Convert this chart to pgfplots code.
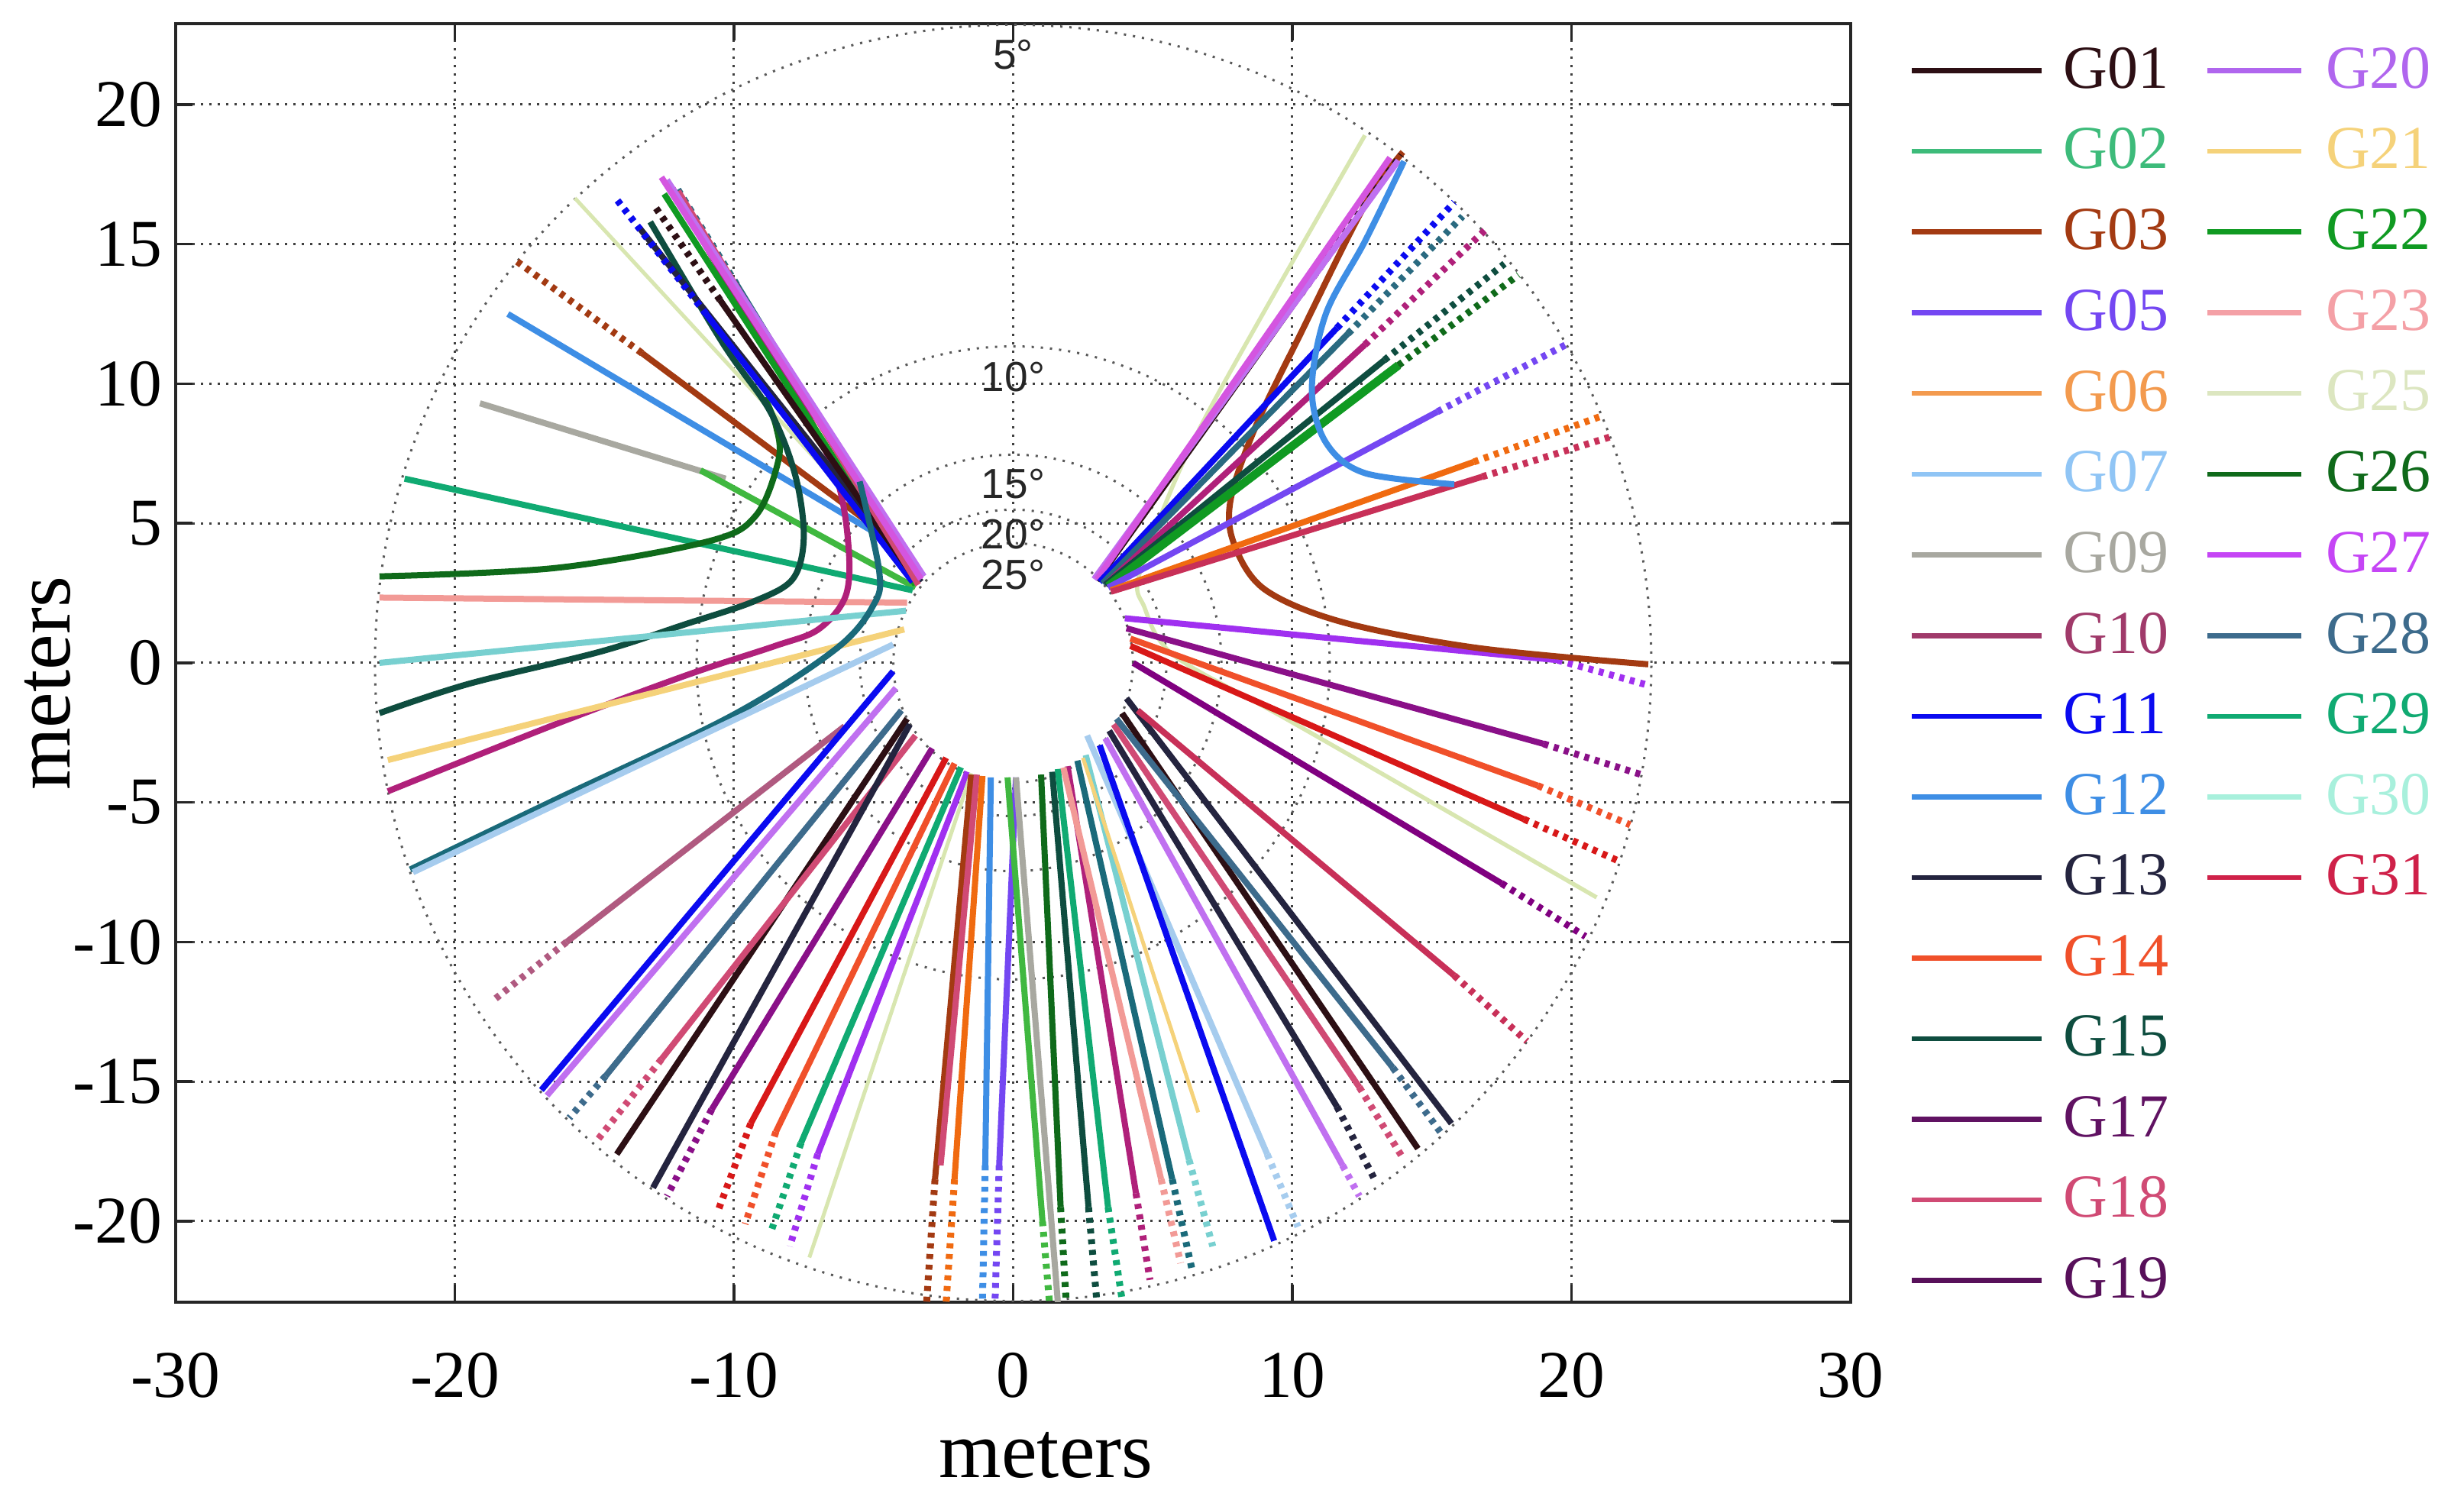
\documentclass[border=0pt]{standalone}
\usepackage{fontspec}
\setmainfont{Liberation Serif}
\newfontfamily\lsans{Liberation Sans}
\usepackage{pgfplots}
\pgfplotsset{compat=1.18}
% legend colours
\definecolor{c01}{HTML}{2D0F14}
\definecolor{c02}{HTML}{3DBB7A}
\definecolor{c03}{HTML}{A33A12}
\definecolor{c05}{HTML}{7447F2}
\definecolor{c06}{HTML}{F39A4E}
\definecolor{c07}{HTML}{90C5F5}
\definecolor{c09}{HTML}{A8A8A0}
\definecolor{c10}{HTML}{A03A6A}
\definecolor{c11}{HTML}{0A0AF0}
\definecolor{c12}{HTML}{3E8EE5}
\definecolor{c13}{HTML}{24243F}
\definecolor{c14}{HTML}{F0502A}
\definecolor{c15}{HTML}{0E4D3F}
\definecolor{c17}{HTML}{601262}
\definecolor{c18}{HTML}{D04A74}
\definecolor{c19}{HTML}{58105A}
\definecolor{c20}{HTML}{B066EE}
\definecolor{c21}{HTML}{F5D27A}
\definecolor{c22}{HTML}{109A22}
\definecolor{c23}{HTML}{F4A0A6}
\definecolor{c25}{HTML}{DCE6C0}
\definecolor{c26}{HTML}{0F6A1A}
\definecolor{c27}{HTML}{C545F5}
\definecolor{c28}{HTML}{3D6B8C}
\definecolor{c29}{HTML}{10AA72}
\definecolor{c30}{HTML}{A8F0DC}
\definecolor{c31}{HTML}{CF2149}
% track colours as seen in the plot
\definecolor{p10}{HTML}{B0207A}
\definecolor{p17}{HTML}{8A1088}
\definecolor{p19}{HTML}{800080}
\definecolor{p20}{HTML}{C070F0}
\definecolor{p23}{HTML}{F29A96}
\definecolor{p25}{HTML}{D8E6B0}
\definecolor{p27}{HTML}{D455E0}
\definecolor{p28}{HTML}{2A6A80}
\definecolor{p30}{HTML}{78D0D0}
\definecolor{p31}{HTML}{D81818}
\definecolor{pgr}{HTML}{40B840}
\definecolor{pmv}{HTML}{B05A80}
\definecolor{pcr}{HTML}{C83058}
\definecolor{pvi}{HTML}{A030F0}
\definecolor{por}{HTML}{F06A10}
\definecolor{ptl}{HTML}{1A6A7A}
\definecolor{plb}{HTML}{A6CCEE}

\begin{document}
\begin{tikzpicture}
\useasboundingbox (-46pt,-51.8pt) rectangle (599.2pt,341pt);
\begin{axis}[
  scale only axis, width=438.6pt, height=334.8pt,
  xmin=-30, xmax=30, ymin=-22.9, ymax=22.9,
  xtick={-30,-20,...,30}, ytick={-20,-15,...,20},
  grid=major,
  grid style={black!75, line width=0.6pt, dash pattern=on 0.6pt off 1.6pt},
  axis line style={black!85, line width=0.7pt},
  major tick style={black!85, line width=0.7pt}, major tick length=4.5pt,
  /pgf/number format/assume math mode=true,
  tick label style={font=\fontsize{17.5}{19}\selectfont},
  xticklabel style={yshift=-9.7pt},
  xlabel={meters}, ylabel={meters},
  label style={font=\fontsize{21}{24}\selectfont},
  x label style={at={(axis description cs:0.5196,-0.1195)}, anchor=center},
  y label style={at={(axis description cs:-0.0766,0.484)}, anchor=center},
  legend columns=2, legend cell align=left,
  legend style={draw=none, fill=none, inner sep=0pt,
    at={(axis description cs:1,1)}, anchor=north west, xshift=15.2pt, yshift=-4pt,
    font=\fontsize{16}{18}\selectfont, row sep=5pt,
    nodes={inner sep=2pt, text depth=0.15em},
    /tikz/every even column/.append style={column sep=7.5pt}},
  legend image code/.code={\draw[line width=1.3pt] (0pt,0pt) -- (34pt,0pt); \path (37pt,0pt);},
  leg2/.style={legend image code/.code={\draw[line width=1.3pt] (0pt,0pt) -- (24.6pt,0pt); \path (28.8pt,0pt);}},
  trk/.style={line width=1.6pt, forget plot, line join=round},
  thn/.style={line width=1.0pt, forget plot},
  dtl/.style={line width=1.8pt, forget plot, dash pattern=on 1.3pt off 1.5pt},
  crv/.style={line width=1.6pt, forget plot, smooth, tension=0.55},
]
% legend, filled column by column
\addlegendimage{c01, line width=1.3pt}\addlegendentry{\textcolor{c01}{G01}}
\addlegendimage{c20, leg2}\addlegendentry{\textcolor{c20}{G20}}
\addlegendimage{c02, line width=1.3pt}\addlegendentry{\textcolor{c02}{G02}}
\addlegendimage{c21, leg2}\addlegendentry{\textcolor{c21}{G21}}
\addlegendimage{c03, line width=1.3pt}\addlegendentry{\textcolor{c03}{G03}}
\addlegendimage{c22, leg2}\addlegendentry{\textcolor{c22}{G22}}
\addlegendimage{c05, line width=1.3pt}\addlegendentry{\textcolor{c05}{G05}}
\addlegendimage{c23, leg2}\addlegendentry{\textcolor{c23}{G23}}
\addlegendimage{c06, line width=1.3pt}\addlegendentry{\textcolor{c06}{G06}}
\addlegendimage{c25, leg2}\addlegendentry{\textcolor{c25}{G25}}
\addlegendimage{c07, line width=1.3pt}\addlegendentry{\textcolor{c07}{G07}}
\addlegendimage{c26, leg2}\addlegendentry{\textcolor{c26}{G26}}
\addlegendimage{c09, line width=1.3pt}\addlegendentry{\textcolor{c09}{G09}}
\addlegendimage{c27, leg2}\addlegendentry{\textcolor{c27}{G27}}
\addlegendimage{c10, line width=1.3pt}\addlegendentry{\textcolor{c10}{G10}}
\addlegendimage{c28, leg2}\addlegendentry{\textcolor{c28}{G28}}
\addlegendimage{c11, line width=1.3pt}\addlegendentry{\textcolor{c11}{G11}}
\addlegendimage{c29, leg2}\addlegendentry{\textcolor{c29}{G29}}
\addlegendimage{c12, line width=1.3pt}\addlegendentry{\textcolor{c12}{G12}}
\addlegendimage{c30, leg2}\addlegendentry{\textcolor{c30}{G30}}
\addlegendimage{c13, line width=1.3pt}\addlegendentry{\textcolor{c13}{G13}}
\addlegendimage{c31, leg2}\addlegendentry{\textcolor{c31}{G31}}
\addlegendimage{c14, line width=1.3pt}\addlegendentry{\textcolor{c14}{G14}}
\addlegendimage{empty legend}\addlegendentry{}
\addlegendimage{c15, line width=1.3pt}\addlegendentry{\textcolor{c15}{G15}}
\addlegendimage{empty legend}\addlegendentry{}
\addlegendimage{c17, line width=1.3pt}\addlegendentry{\textcolor{c17}{G17}}
\addlegendimage{empty legend}\addlegendentry{}
\addlegendimage{c18, line width=1.3pt}\addlegendentry{\textcolor{c18}{G18}}
\addlegendimage{empty legend}\addlegendentry{}
\addlegendimage{c19, line width=1.3pt}\addlegendentry{\textcolor{c19}{G19}}

% elevation rings (5, 10, 15, 20, 25 deg)
\fill[white] (axis cs:0,0) circle[radius=4.29];
\draw[black!65, line width=0.6pt, dash pattern=on 0.6pt off 1.8pt] (axis cs:0,0) circle[radius=22.86];
\draw[black!65, line width=0.6pt, dash pattern=on 0.6pt off 1.8pt] (axis cs:0,0) circle[radius=11.34];
\draw[black!65, line width=0.6pt, dash pattern=on 0.6pt off 1.8pt] (axis cs:0,0) circle[radius=7.46];
\draw[black!65, line width=0.6pt, dash pattern=on 0.6pt off 1.8pt] (axis cs:0,0) circle[radius=5.49];
\draw[black!65, line width=0.6pt, dash pattern=on 0.6pt off 1.8pt] (axis cs:0,0) circle[radius=4.29];

% ---- upper left
\addplot[thn, p25] coordinates {(-3.2,3.1) (-15.7,16.65)};
\addplot[trk, c03] coordinates {(-4.2,4.3) (-13.3,11.1)};
\addplot[dtl, c03] coordinates {(-13.3,11.1) (-17.8,14.4)};
\addplot[trk, c12] coordinates {(-4.0,4.1) (-18.1,12.5)};
\addplot[trk, c09] coordinates {(-10.3,6.6) (-19.1,9.3)};
\addplot[trk, pgr] coordinates {(-3.5,2.7) (-11.2,6.9)};
\addplot[trk, c29] coordinates {(-3.6,2.6) (-21.8,6.6)};
\addplot[crv, c26] coordinates {(-22.7,3.1) (-16.4,3.4) (-10.9,4.36) (-9.2,5.3) (-8.4,7.3) (-8.5,8.5) (-8.9,9.5)};
\addplot[trk, p23] coordinates {(-22.7,2.34) (-3.8,2.16)};
\addplot[crv, c15] coordinates {(-13.0,15.8) (-10.4,11.45) (-8.7,9.0) (-7.8,6.7) (-7.5,4.5) (-7.9,3.0) (-9.3,2.2) (-11.7,1.4) (-14.8,0.4) (-19.5,-0.75) (-22.7,-1.8)};
\addplot[crv, p10] coordinates {(-12.2,17.0) (-10.1,13.4) (-7.8,9.7) (-6.35,6.7) (-5.9,4.2) (-6.0,2.4) (-6.98,1.2) (-8.55,0.6) (-11.7,-0.44) (-16.4,-2.2) (-22.4,-4.6)};
\addplot[trk, c22] coordinates {(-3.5,2.8) (-12.5,16.8)};
\addplot[trk, c13] coordinates {(-3.3,2.9) (-13.4,15.6)};
\addplot[trk, c11] coordinates {(-3.6,2.9) (-11.0,12.5)};
\addplot[dtl, c11] coordinates {(-11.0,12.5) (-14.2,16.6)};
\addplot[trk, c01] coordinates {(-3.5,3.0) (-10.5,13.0)};
\addplot[dtl, c01] coordinates {(-10.5,13.0) (-12.8,16.3)};
\addplot[trk, p28] coordinates {(-3.4,2.9) (-9.9,13.55)};
\addplot[dtl, p28] coordinates {(-9.9,13.55) (-12.1,17.1)};
\addplot[trk, c18] coordinates {(-3.4,2.8) (-12.0,16.9)};
\addplot[trk, p20] coordinates {(-3.2,3.1) (-12.4,17.3)};
\addplot[trk, p27] coordinates {(-3.3,3.0) (-12.6,17.4)};

% ---- left
\addplot[trk, p30] coordinates {(-3.84,1.87) (-22.7,0.0)};
\addplot[trk, c21] coordinates {(-3.9,1.2) (-22.4,-3.48)};
\addplot[crv, ptl] coordinates {(-5.5,6.5) (-4.8,3.3) (-5.0,2.08) (-6.35,0.5) (-10.1,-1.9) (-16.4,-4.9) (-21.6,-7.4)};
\addplot[trk, plb] coordinates {(-4.3,0.66) (-21.5,-7.5)};
\addplot[trk, pmv] coordinates {(-6.04,-2.27) (-16.0,-10.0)};
\addplot[dtl, pmv] coordinates {(-16.0,-10.0) (-18.6,-12.07)};

% ---- lower left
\addplot[trk, c11] coordinates {(-4.3,-0.3) (-16.9,-15.3)};
\addplot[trk, p20] coordinates {(-4.2,-0.9) (-16.7,-15.5)};
\addplot[trk, c28] coordinates {(-4.0,-1.7) (-14.6,-14.8)};
\addplot[dtl, c28] coordinates {(-14.6,-14.8) (-15.9,-16.3)};
\addplot[trk, c01] coordinates {(-3.8,-2.0) (-14.2,-17.6)};
\addplot[trk, c18] coordinates {(-3.5,-2.6) (-12.6,-14.2)};
\addplot[dtl, c18] coordinates {(-12.6,-14.2) (-14.9,-17.1)};
\addplot[trk, c13] coordinates {(-3.7,-2.2) (-12.9,-18.8)};
\addplot[trk, p17] coordinates {(-2.9,-3.06) (-10.8,-16.0)};
\addplot[dtl, p17] coordinates {(-10.8,-16.0) (-12.4,-19.1)};
\addplot[trk, p31] coordinates {(-2.4,-3.4) (-9.4,-16.5)};
\addplot[dtl, p31] coordinates {(-9.4,-16.5) (-10.6,-19.7)};
\addplot[trk, c14] coordinates {(-2.1,-3.6) (-8.5,-16.8)};
\addplot[dtl, c14] coordinates {(-8.5,-16.8) (-9.6,-20.1)};
\addplot[trk, c29] coordinates {(-1.87,-3.74) (-7.6,-17.2)};
\addplot[dtl, c29] coordinates {(-7.6,-17.2) (-8.7,-20.45)};
\addplot[trk, pvi] coordinates {(-1.64,-3.9) (-7.0,-17.6)};
\addplot[dtl, pvi] coordinates {(-7.0,-17.6) (-8.0,-20.9)};
\addplot[thn, p25] coordinates {(-1.5,-3.95) (-7.3,-21.3)};

% ---- bottom
\addplot[trk, c03] coordinates {(-1.5,-4.0) (-2.8,-18.5)};
\addplot[dtl, c03] coordinates {(-2.8,-18.5) (-3.1,-22.9)};
\addplot[trk, c18] coordinates {(-1.3,-4.0) (-2.6,-18.0)};
\addplot[trk, por] coordinates {(-1.1,-4.05) (-2.1,-18.5)};
\addplot[dtl, por] coordinates {(-2.1,-18.5) (-2.4,-22.9)};
\addplot[trk, c12] coordinates {(-0.8,-4.1) (-1.0,-18.0)};
\addplot[dtl, c12] coordinates {(-1.0,-18.0) (-1.1,-22.9)};
\addplot[trk, c05] coordinates {(0.1,-4.1) (-0.5,-18.0)};
\addplot[dtl, c05] coordinates {(-0.5,-18.0) (-0.65,-22.9)};
\addplot[trk, pgr] coordinates {(-0.2,-4.1) (1.05,-20.0)};
\addplot[dtl, pgr] coordinates {(1.05,-20.0) (1.3,-22.9)};
\addplot[trk, c09] coordinates {(0.1,-4.1) (1.6,-22.9)};
\addplot[trk, c26] coordinates {(1.0,-4.0) (1.7,-19.5)};
\addplot[dtl, c26] coordinates {(1.7,-19.5) (1.9,-22.9)};
\addplot[trk, c15] coordinates {(1.4,-3.9) (2.7,-19.5)};
\addplot[dtl, c15] coordinates {(2.7,-19.5) (3.0,-22.9)};
\addplot[trk, c29] coordinates {(1.6,-3.8) (3.4,-19.5)};
\addplot[dtl, c29] coordinates {(3.4,-19.5) (3.9,-22.8)};
\addplot[trk, p10] coordinates {(1.95,-3.7) (4.4,-19.0)};
\addplot[dtl, p10] coordinates {(4.4,-19.0) (4.9,-22.1)};
\addplot[trk, p23] coordinates {(1.8,-3.75) (5.3,-18.5)};
\addplot[dtl, p23] coordinates {(5.3,-18.5) (6.0,-21.5)};
\addplot[trk, ptl] coordinates {(2.3,-3.5) (5.7,-18.5)};
\addplot[dtl, ptl] coordinates {(5.7,-18.5) (6.4,-21.7)};
\addplot[trk, p30] coordinates {(2.6,-3.3) (6.3,-17.8)};
\addplot[dtl, p30] coordinates {(6.3,-17.8) (7.15,-20.9)};
\addplot[thn, c21] coordinates {(2.5,-3.4) (6.63,-16.1)};

% ---- lower right
\addplot[trk, plb] coordinates {(2.65,-2.6) (9.1,-17.6)};
\addplot[dtl, plb] coordinates {(9.1,-17.6) (10.2,-20.2)};
\addplot[trk, c11] coordinates {(3.1,-2.95) (9.35,-20.7)};
\addplot[trk, p20] coordinates {(3.3,-2.7) (11.8,-18.0)};
\addplot[dtl, p20] coordinates {(11.8,-18.0) (12.4,-19.1)};
\addplot[trk, c13] coordinates {(3.44,-2.43) (11.6,-15.9)};
\addplot[dtl, c13] coordinates {(11.6,-15.9) (13.0,-18.6)};
\addplot[trk, c18] coordinates {(3.6,-2.2) (12.4,-15.2)};
\addplot[dtl, c18] coordinates {(12.4,-15.2) (14.0,-17.8)};
\addplot[trk, c01] coordinates {(3.9,-1.8) (14.5,-17.4)};
\addplot[trk, c28] coordinates {(3.7,-2.0) (13.6,-14.5)};
\addplot[dtl, c28] coordinates {(13.6,-14.5) (15.3,-16.8)};
\addplot[trk, c13] coordinates {(4.06,-1.27) (15.7,-16.5)};

% ---- right
\addplot[trk, pcr] coordinates {(4.46,-1.7) (15.8,-11.2)};
\addplot[dtl, pcr] coordinates {(15.8,-11.2) (18.4,-13.55)};
\addplot[trk, p19] coordinates {(4.3,0.0) (17.5,-7.9)};
\addplot[dtl, p19] coordinates {(17.5,-7.9) (20.5,-9.8)};
\addplot[crv, p25, line width=1.1pt] coordinates {(12.6,18.9) (7.1,9.2) (5.25,5.2) (4.46,2.9) (4.7,2.0) (5.24,0.82) (6.34,-0.12) (10.3,-2.3) (20.9,-8.4)};
\addplot[trk, p31] coordinates {(4.2,0.61) (18.3,-5.6)};
\addplot[dtl, p31] coordinates {(18.3,-5.6) (21.7,-7.1)};
\addplot[trk, c14] coordinates {(4.2,0.87) (18.8,-4.4)};
\addplot[dtl, c14] coordinates {(18.8,-4.4) (22.1,-5.8)};
\addplot[trk, p17] coordinates {(4.06,1.24) (19.0,-2.9)};
\addplot[dtl, p17] coordinates {(19.0,-2.9) (22.5,-4.0)};
\addplot[trk, pvi] coordinates {(4.0,1.6) (19.5,0.1)};
\addplot[dtl, pvi] coordinates {(19.5,0.1) (22.75,-0.8)};
\addplot[crv, c03] coordinates {(13.96,18.3) (12.6,16.4) (10.3,11.8) (8.7,8.5) (7.8,5.9) (7.9,4.3) (9.0,2.64) (11.8,1.46) (16.6,0.54) (22.75,-0.05)};

% ---- upper right
\addplot[trk, c01] coordinates {(3.0,2.95) (10.3,13.2)};
\addplot[dtl, c01] coordinates {(10.3,13.2) (13.9,18.2)};
\addplot[trk, p20] coordinates {(2.9,3.0) (13.8,18.0)};
\addplot[trk, p27] coordinates {(3.0,3.0) (13.5,18.1)};
\addplot[trk, c11] coordinates {(3.1,2.9) (11.6,12.0)};
\addplot[dtl, c11] coordinates {(11.6,12.0) (15.8,16.5)};
\addplot[trk, p28] coordinates {(3.2,2.85) (12.0,11.8)};
\addplot[dtl, p28] coordinates {(12.0,11.8) (16.1,16.0)};
\addplot[trk, p10] coordinates {(3.3,2.8) (12.6,11.4)};
\addplot[dtl, p10] coordinates {(12.6,11.4) (16.9,15.5)};
\addplot[trk, c15] coordinates {(3.3,2.8) (13.3,10.85)};
\addplot[dtl, c15] coordinates {(13.3,10.85) (17.6,14.3)};
\addplot[trk, c22, line width=2.2pt] coordinates {(3.4,2.75) (13.8,10.66)};
\addplot[dtl, c26] coordinates {(13.8,10.66) (18.1,13.9)};
\addplot[trk, c05] coordinates {(3.4,2.7) (15.2,9.0)};
\addplot[dtl, c05] coordinates {(15.2,9.0) (19.8,11.4)};
\addplot[trk, por] coordinates {(3.5,2.6) (16.5,7.2)};
\addplot[dtl, por] coordinates {(16.5,7.2) (21.1,8.85)};
\addplot[trk, pcr] coordinates {(3.5,2.55) (16.8,6.67)};
\addplot[dtl, pcr] coordinates {(16.8,6.67) (21.4,8.1)};
\addplot[crv, c12] coordinates {(14.0,17.97) (12.6,15.1) (11.2,12.5) (10.7,9.8) (11.2,7.9) (12.6,6.8) (15.8,6.4)};

% ring labels
\node[font=\lsans\fontsize{11}{12}\selectfont, text=black!85] at (axis cs:0,21.8) {5°};
\node[font=\lsans\fontsize{11}{12}\selectfont, text=black!85] at (axis cs:0,10.25) {10°};
\node[font=\lsans\fontsize{11}{12}\selectfont, text=black!85] at (axis cs:0,6.4) {15°};
\node[font=\lsans\fontsize{11}{12}\selectfont, text=black!85] at (axis cs:0,4.6) {20°};
\node[font=\lsans\fontsize{11}{12}\selectfont, text=black!85] at (axis cs:0,3.15) {25°};
\end{axis}
\end{tikzpicture}
\end{document}
